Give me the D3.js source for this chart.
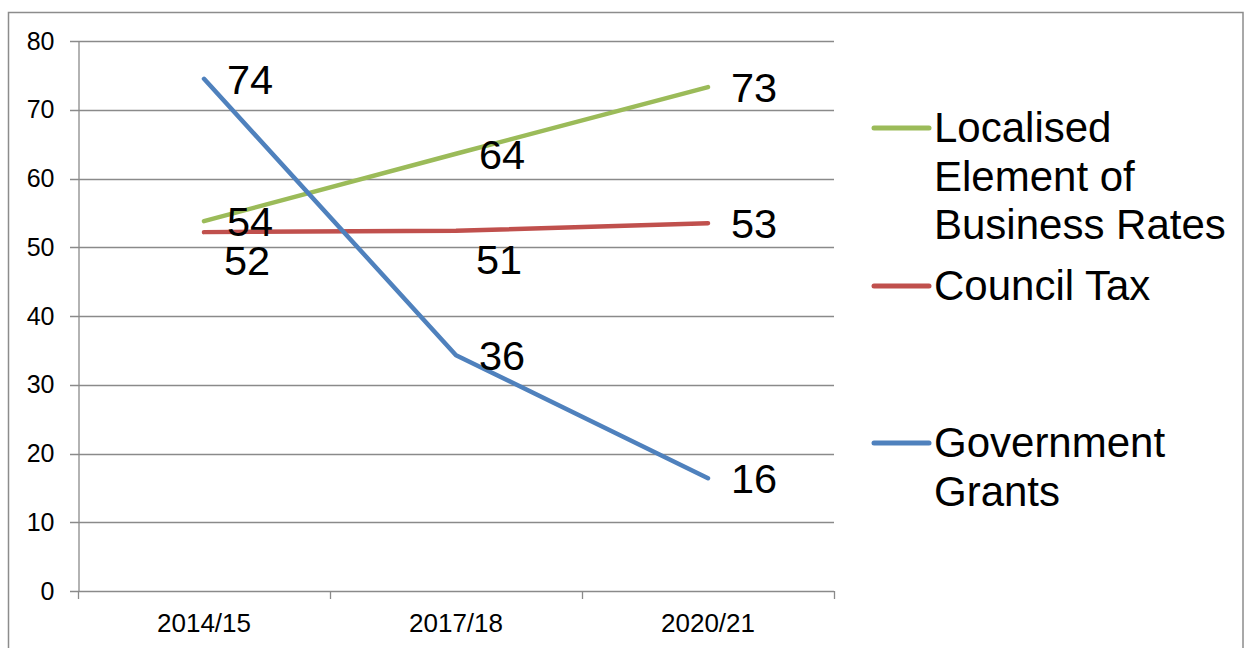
<!DOCTYPE html>
<html>
<head>
<meta charset="utf-8">
<script src="https://cdn.jsdelivr.net/npm/d3@7"></script>
<style>
  body { margin: 0; background: #fff; }
  svg text { font-family: "Liberation Sans", Arial, sans-serif; fill: #000; }
</style>
</head>
<body>
<div id="chart"></div>
<script>
// categories and series
var years = ["2014/15", "2017/18", "2020/21"];
var businessRates = [53.8, 63.6, 73.3];
var councilTax = [52.2, 52.4, 53.5];
var govGrants = [74.5, 34.3, 16.4];

// labels as printed on the chart
var businessLabels = ["54", "64", "73"];
var councilLabels = ["52", "51", "53"];
var grantLabels = ["74", "36", "16"];

var yTicks = [0, 10, 20, 30, 40, 50, 60, 70, 80];

var series = [
  {name: ["Localised", "Element of", "Business Rates"], values: businessRates, labels: businessLabels, color: "#9bbb59", below: [], legendY: 128},
  {name: ["Council Tax"], values: councilTax, labels: councilLabels, color: "#c0504d", below: [0, 1], legendY: 286},
  {name: ["Government", "Grants"], values: govGrants, labels: grantLabels, color: "#4f81bd", below: [], legendY: 443}
];

var W = 1245, H = 648;
// plot area edges ("top" would clash with window.top)
var plotL = 78, plotR = 834, plotT = 41, plotB = 591;

var svg = d3.select("#chart").append("svg")
  .attr("width", W)
  .attr("height", H);

// outer frame
svg.append("rect")
  .attr("x", 8.5).attr("y", 12.5)
  .attr("width", 1243 - 8.5).attr("height", 660)
  .attr("fill", "none")
  .attr("stroke", "#8c8c8c")
  .attr("stroke-width", 1.5);

var x = d3.scaleBand().domain(years).range([plotL, plotR]).padding(0);
var y = d3.scaleLinear().domain([0, 80]).range([plotB, plotT]);

// gridlines
svg.append("g")
  .selectAll("line")
  .data(yTicks)
  .enter()
  .append("line")
  .attr("x1", plotL - 8).attr("x2", plotR)
  .attr("y1", function(d){ return Math.round(y(d)) + 0.5; })
  .attr("y2", function(d){ return Math.round(y(d)) + 0.5; })
  .attr("stroke", "#8a8a8a")
  .attr("stroke-width", 1.3);

// y axis
var yAxis = svg.append("g")
  .attr("transform", "translate(" + (plotL + 0.5) + ",0)")
  .call(d3.axisLeft(y).tickValues(yTicks).tickSize(0).tickPadding(24));
yAxis.select(".domain").attr("stroke", "#8a8a8a").attr("stroke-width", 1.3);
yAxis.selectAll(".tick line").remove();
yAxis.selectAll(".tick text")
  .style("font-size", "25px")
  .attr("fill", "#000");

// x axis: ticks sit on band boundaries, labels in band centres
var xAxis = svg.append("g")
  .attr("transform", "translate(0," + plotB + ")")
  .call(d3.axisBottom(x).tickSize(0).tickPadding(0));
xAxis.select(".domain").remove();
xAxis.selectAll(".tick text")
  .attr("dy", null)
  .attr("y", 41)
  .style("font-size", "26px")
  .attr("fill", "#000");

var edges = years.map(function(d){ return x(d); }).concat([x(years[years.length - 1]) + x.bandwidth()]);
svg.append("g")
  .selectAll("line")
  .data(edges)
  .enter()
  .append("line")
  .attr("x1", function(d){ return Math.round(d) + 0.5; })
  .attr("x2", function(d){ return Math.round(d) + 0.5; })
  .attr("y1", plotB).attr("y2", plotB + 8)
  .attr("stroke", "#8a8a8a")
  .attr("stroke-width", 1.3);

var cx = function(d, i){ return x(years[i]) + x.bandwidth() / 2; };

var line = d3.line()
  .x(cx)
  .y(function(d){ return y(d); });

// lines
series.forEach(function(s){
  svg.append("path")
    .datum(s.values)
    .attr("d", line)
    .attr("fill", "none")
    .attr("stroke", s.color)
    .attr("stroke-width", 4.5)
    .attr("stroke-linecap", "round")
    .attr("stroke-linejoin", "round");
});

// data labels
series.forEach(function(s){
  svg.append("g")
    .selectAll("text")
    .data(s.values)
    .enter()
    .append("text")
    .attr("x", function(d, i){ return cx(d, i) + (s.below.indexOf(i) >= 0 ? 20 : 23); })
    .attr("y", function(d, i){ return y(d) + (s.below.indexOf(i) >= 0 ? 43 : 15); })
    .style("font-size", "41.5px")
    .text(function(d, i){ return s.labels[i]; });
});

// legend
var legend = svg.append("g");
series.forEach(function(s){
  legend.append("line")
    .attr("x1", 874).attr("x2", 929)
    .attr("y1", s.legendY).attr("y2", s.legendY)
    .attr("stroke", s.color)
    .attr("stroke-width", 5)
    .attr("stroke-linecap", "round");
  var t = legend.append("text")
    .attr("x", 934)
    .attr("y", s.legendY + 14)
    .style("font-size", "42px");
  s.name.forEach(function(n, k){
    t.append("tspan")
      .attr("x", 934)
      .attr("dy", k === 0 ? 0 : 48.5)
      .text(n);
  });
});
</script>
</body>
</html>
